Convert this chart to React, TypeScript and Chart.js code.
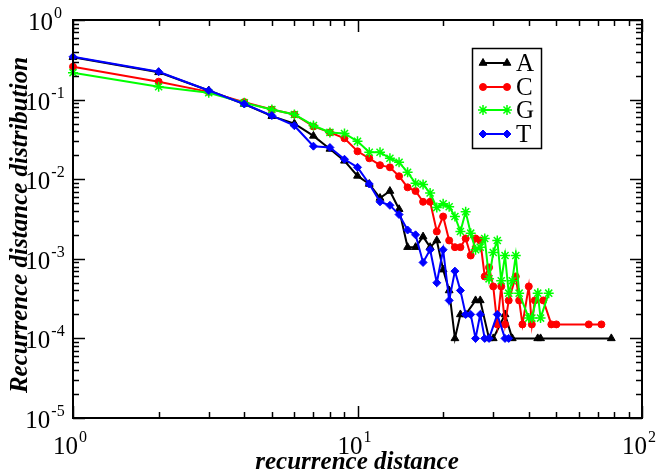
import React, { useEffect, useRef } from 'react';
import { Chart, registerables } from 'chart.js';
import { drawPoint } from 'chart.js/helpers';

Chart.register(...registerables);

// ---- data ----
const seriesNames = ['A', 'C', 'G', 'T'];

const xA = [1, 2, 3, 4, 5, 6, 7, 8, 9, 10, 11, 12, 13, 14, 15, 16, 17, 18, 19, 20, 21, 22, 23, 24, 26, 27, 29, 30, 33, 35, 43, 44, 78];
const yA = [0.34, 0.22, 0.13, 0.088, 0.062, 0.05, 0.035, 0.024, 0.017, 0.011, 0.0087, 0.0058, 0.0071, 0.0042, 0.0014, 0.0014, 0.0019, 0.0014, 0.0017, 0.00073, 0.0004, 0.0001, 0.0002, 0.0002, 0.0003, 0.0003, 0.0001, 0.0001, 0.0002, 0.0001, 0.0001, 0.0001, 0.0001];

const xC = [1, 2, 3, 4, 5, 6, 7, 8, 9, 10, 11, 12, 13, 14, 15, 16, 17, 18, 19, 20, 21, 22, 23, 24, 25, 26, 27, 28, 29, 30, 31, 32, 33, 34, 36, 37, 38, 40, 41, 42, 45, 48, 50, 65, 72];
const yC = [0.259, 0.168, 0.125, 0.093, 0.075, 0.065, 0.046, 0.0387, 0.0326, 0.0224, 0.0183, 0.015, 0.0141, 0.0109, 0.0079, 0.0071, 0.0052, 0.0052, 0.0022, 0.0034, 0.0017, 0.0014, 0.0014, 0.0018, 0.0011, 0.0018, 0.0017, 0.0006, 0.00078, 0.00045, 0.00015, 0.00045, 0.00015, 0.0003, 0.0006, 0.0003, 0.00015, 0.00045, 0.00015, 0.0003, 0.0003, 0.00015, 0.00015, 0.00015, 0.00015];

const xG = [1, 2, 3, 4, 5, 6, 7, 8, 9, 10, 11, 12, 13, 14, 15, 16, 17, 18, 19, 20, 21, 22, 23, 24, 25, 26, 27, 28, 29, 30, 31, 32, 33, 34, 35, 36, 37, 40, 41, 43, 44, 47];
const yG = [0.218, 0.145, 0.122, 0.091, 0.075, 0.065, 0.0473, 0.0387, 0.0375, 0.0299, 0.0218, 0.0218, 0.0183, 0.0163, 0.0122, 0.0089, 0.0086, 0.0067, 0.0044, 0.0049, 0.0045, 0.0034, 0.0022, 0.0039, 0.0021, 0.0013, 0.0014, 0.0018, 0.00056, 0.0012, 0.0017, 0.00053, 0.0011, 0.00037, 0.00053, 0.0011, 0.00037, 0.00018, 0.00018, 0.00037, 0.00018, 0.00037];

const xT = [1, 2, 3, 4, 5, 6, 7, 8, 9, 10, 11, 12, 13, 14, 15, 16, 17, 18, 19, 20, 21, 22, 23, 24, 25, 26, 27, 28, 29, 31, 33, 34];
const yT = [0.345, 0.224, 0.13, 0.088, 0.063, 0.047, 0.026, 0.025, 0.0178, 0.0141, 0.0087, 0.0052, 0.0047, 0.0036, 0.0023, 0.002, 0.0009, 0.0013, 0.0005, 0.0013, 0.0003, 0.0007, 0.0004, 0.0002, 0.0002, 0.0001, 0.0002, 0.0001, 0.0001, 0.0002, 0.0001, 0.0001];

const xTickExps = [0, 1, 2];
const yTickExps = [0, -1, -2, -3, -4, -5];
const xTitle = 'recurrence distance';
const yTitle = 'Recurrence distance distribution';

// ---- styles ----
const styles = [
  { color: '#000000', pointStyle: 'triangle', radius: 4.5, bw: 1 },
  { color: '#ff0000', pointStyle: 'circle', radius: 3.5, bw: 1 },
  { color: '#00ff00', pointStyle: 'star', radius: 5, bw: 1.5 },
  { color: '#0000ff', pointStyle: 'rectRot', radius: 4, bw: 1 },
];

const SERIF = '"Liberation Serif", "Times New Roman", serif';

function toPoints(xs: number[], ys: number[]) {
  return xs.map((x, i) => ({ x, y: ys[i] }));
}

function drawPow(ctx: CanvasRenderingContext2D, exp: number, cx: number, baseY: number) {
  const main = '10';
  const sup = String(exp);
  ctx.font = `25px ${SERIF}`;
  const w1 = ctx.measureText(main).width;
  ctx.font = `16px ${SERIF}`;
  const w2 = ctx.measureText(sup).width;
  const total = w1 + 1 + w2;
  const sx = cx - total / 2;
  ctx.textAlign = 'left';
  ctx.textBaseline = 'alphabetic';
  ctx.font = `25px ${SERIF}`;
  ctx.fillText(main, sx, baseY);
  ctx.font = `16px ${SERIF}`;
  ctx.fillText(sup, sx + w1 + 1, baseY - 12);
}

const decorPlugin = {
  id: 'decor',
  afterDraw(chart: any) {
    const { ctx, chartArea: a, scales } = chart;
    const xs = scales.x;
    const ys = scales.y;
    ctx.save();
    ctx.fillStyle = '#000';
    ctx.strokeStyle = '#000';

    // frame
    ctx.lineWidth = 2;
    ctx.strokeRect(a.left, a.top, a.right - a.left, a.bottom - a.top);

    // ticks
    ctx.lineWidth = 1.5;
    const seg = (x1: number, y1: number, x2: number, y2: number) => {
      ctx.beginPath();
      ctx.moveTo(x1, y1);
      ctx.lineTo(x2, y2);
      ctx.stroke();
    };
    for (let e = 0; e <= 2; e++) {
      for (let m = 1; m <= 9; m++) {
        const v = m * Math.pow(10, e);
        if (v > 100) break;
        const px = Math.round(xs.getPixelForValue(v)) + 0.5;
        const len = m === 1 ? 12 : 6;
        seg(px, a.bottom, px, a.bottom - len);
        seg(px, a.top, px, a.top + len);
      }
    }
    for (let e = -5; e <= 0; e++) {
      for (let m = 1; m <= 9; m++) {
        const v = m * Math.pow(10, e);
        if (v > 1) break;
        const py = Math.round(ys.getPixelForValue(v)) + 0.5;
        const len = m === 1 ? 12 : 6;
        seg(a.left, py, a.left + len, py);
        seg(a.right, py, a.right - len, py);
      }
    }

    // tick labels
    for (const e of xTickExps) {
      const px = xs.getPixelForValue(Math.pow(10, e));
      drawPow(ctx, e, px - 3, 454);
    }
    for (const e of yTickExps) {
      const py = ys.getPixelForValue(Math.pow(10, e));
      drawPow(ctx, e, 45, py + 10);
    }

    // axis titles
    ctx.font = `bold italic 25px ${SERIF}`;
    ctx.textAlign = 'center';
    ctx.textBaseline = 'middle';
    ctx.fillText(xTitle, 357, 463);
    ctx.save();
    ctx.translate(21, 225);
    ctx.rotate(-Math.PI / 2);
    ctx.fillText(yTitle, 0, 0);
    ctx.restore();

    // legend
    const lx = 472.5, ly = 48.5, lw = 69, lh = 100;
    ctx.fillStyle = '#fff';
    ctx.fillRect(lx, ly, lw, lh);
    ctx.strokeStyle = '#000';
    ctx.lineWidth = 1.5;
    ctx.strokeRect(lx, ly, lw, lh);
    const rows = [63, 87, 110, 134];
    seriesNames.forEach((name, i) => {
      const st = styles[i];
      const y = rows[i];
      ctx.strokeStyle = st.color;
      ctx.fillStyle = st.color;
      ctx.lineWidth = 2;
      seg(483, y, 507, y);
      ctx.lineWidth = st.bw;
      for (const x of [483, 507]) {
        drawPoint(ctx, { pointStyle: st.pointStyle as any, radius: st.radius, rotation: 0, borderWidth: st.bw }, x, y);
      }
      ctx.fillStyle = '#000';
      ctx.font = `25px ${SERIF}`;
      ctx.textAlign = 'left';
      ctx.textBaseline = 'middle';
      ctx.fillText(name, 516, y + 1);
    });

    ctx.restore();
  },
};

export default function App() {
  const ref = useRef<HTMLCanvasElement | null>(null);
  useEffect(() => {
    if (!ref.current) return;
    const xsAll = [xA, xC, xG, xT];
    const ysAll = [yA, yC, yG, yT];
    const datasets = seriesNames.map((name, i) => ({
      label: name,
      data: toPoints(xsAll[i], ysAll[i]),
      borderColor: styles[i].color,
      backgroundColor: styles[i].color,
      borderWidth: 2,
      pointStyle: styles[i].pointStyle as any,
      pointRadius: styles[i].radius,
      pointBorderWidth: styles[i].bw,
      pointBackgroundColor: styles[i].color,
      pointBorderColor: styles[i].color,
      tension: 0,
      clip: false as any,
      order: 4 - i,
    }));
    const chart = new Chart(ref.current, {
      type: 'line',
      data: { datasets },
      options: {
        animation: false,
        responsive: false,
        devicePixelRatio: 1,
        layout: { padding: { left: 73, right: 15, top: 20, bottom: 56 } },
        plugins: { legend: { display: false }, tooltip: { enabled: false } },
        events: [],
        scales: {
          x: { type: 'logarithmic', min: 1, max: 100, display: false },
          y: { type: 'logarithmic', min: 1e-5, max: 1, display: false },
        },
      },
      plugins: [decorPlugin],
    });
    return () => chart.destroy();
  }, []);
  return (
    <div style={{ position: 'fixed', left: 0, top: 0, width: 657, height: 474, background: '#fff' }}>
      <canvas ref={ref} width={657} height={474} style={{ display: 'block' }} />
    </div>
  );
}
